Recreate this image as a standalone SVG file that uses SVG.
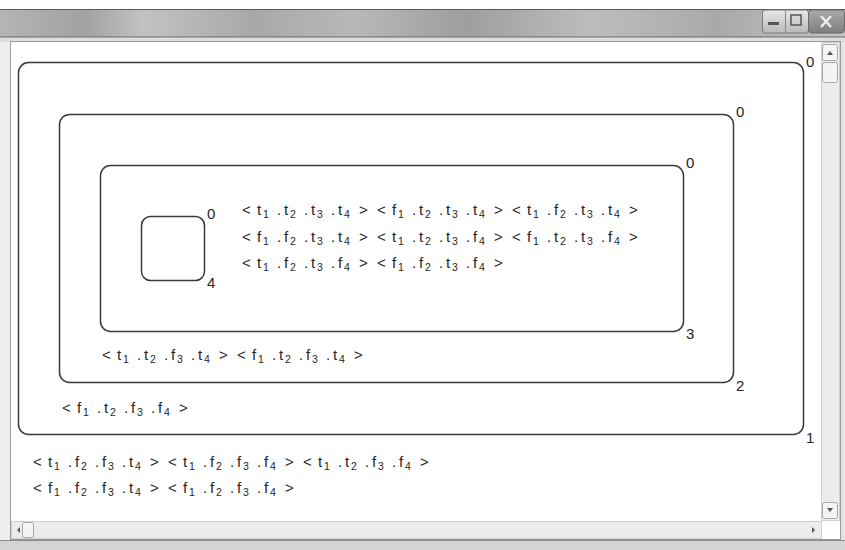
<svg xmlns="http://www.w3.org/2000/svg" width="845" height="550" viewBox="0 0 845 550">
<defs>
<linearGradient id="tb" x1="0" y1="0" x2="1" y2="0">
<stop offset="0" stop-color="#b4b4b4"/>
<stop offset="0.1" stop-color="#a2a2a2"/>
<stop offset="0.17" stop-color="#c2c2c2"/>
<stop offset="0.3" stop-color="#a8a8a8"/>
<stop offset="0.42" stop-color="#b8b8b8"/>
<stop offset="0.55" stop-color="#9e9e9e"/>
<stop offset="0.7" stop-color="#bdbdbd"/>
<stop offset="0.85" stop-color="#a9a9a9"/>
<stop offset="1" stop-color="#c4c4c4"/>
</linearGradient>
<linearGradient id="btn" x1="0" y1="0" x2="0" y2="1">
<stop offset="0" stop-color="#e8e8e8"/>
<stop offset="1" stop-color="#b8b8b8"/>
</linearGradient>
<linearGradient id="cls" x1="0" y1="0" x2="0" y2="1">
<stop offset="0" stop-color="#aaaaaa"/>
<stop offset="1" stop-color="#7e7e7e"/>
</linearGradient>
</defs>
<style>
.box{fill:none;stroke:#3a3a3a;stroke-width:1.5}
.m{font-family:"Liberation Sans",Arial,sans-serif;font-size:15px;fill:#262626}
.s{font-size:10.5px}
.lbl{font-family:"Liberation Sans",Arial,sans-serif;font-size:15px;fill:#262626}
.sb{fill:#ececec;stroke:#cfcfcf;stroke-width:1}
.sbtn{fill:#f4f4f4;stroke:#a8a8a8;stroke-width:1}
</style>
<rect width="845" height="550" fill="#ffffff"/>
<g id="window">
<rect x="0" y="9" width="845" height="28" fill="url(#tb)"/>
<line x1="0" y1="9.5" x2="845" y2="9.5" stroke="#5a5a5a" stroke-width="1"/>
<rect x="0" y="37" width="845" height="5" fill="#dedede"/>
<line x1="0" y1="37" x2="845" y2="37" stroke="#6a6a6a" stroke-width="1"/>
<rect x="0" y="42" width="10" height="498" fill="#eeeeee"/>
<rect x="840" y="42" width="5" height="498" fill="#e4e4e4"/>
<rect x="0" y="540" width="845" height="10" fill="#d4d4d4"/>
<line x1="0" y1="540.5" x2="845" y2="540.5" stroke="#8a8a8a" stroke-width="1"/>
<rect x="10.5" y="41.5" width="830" height="498" fill="#ffffff" stroke="#9a9a9a" stroke-width="1"/>
<rect x="762.5" y="10" width="46" height="23" rx="3" fill="url(#btn)" stroke="#7a7a7a"/>
<line x1="785.5" y1="10" x2="785.5" y2="33" stroke="#8a8a8a"/>
<rect x="768" y="22" width="11" height="3" fill="#555"/>
<rect x="791" y="15" width="10" height="10" fill="none" stroke="#555" stroke-width="1.5"/>
<rect x="808.5" y="10" width="36" height="23" rx="3" fill="url(#cls)" stroke="#6a6a6a"/>
<line x1="821" y1="16" x2="831" y2="27" stroke="#f0f0f0" stroke-width="2.2"/>
<line x1="831" y1="16" x2="821" y2="27" stroke="#f0f0f0" stroke-width="2.2"/>
<rect x="821.5" y="42.5" width="18" height="478" class="sb"/>
<rect x="822.5" y="44.5" width="15" height="16" rx="2" class="sbtn"/>
<polygon points="827,55 830,51 833,55" fill="#555"/>
<rect x="822.5" y="62.5" width="15" height="20" rx="2" class="sbtn"/>
<rect x="822.5" y="502.5" width="15" height="16" rx="2" class="sbtn"/>
<polygon points="827,508 830,512 833,508" fill="#555"/>
<rect x="11.5" y="521.5" width="810" height="17" class="sb"/>
<polygon points="17,530 20,527 20,533" fill="#555"/>
<rect x="22.5" y="522.5" width="11" height="15" rx="2" class="sbtn"/>
<polygon points="812,527 815,530 812,533" fill="#555"/>
</g>
<g id="connectors"></g>
<g id="box1">
<rect class="box" x="18.5" y="62.5" width="785" height="372" rx="10"/>
<text class="lbl" x="806" y="67">0</text>
<text class="lbl" x="806" y="443">1</text>
</g>
<g id="box2">
<rect class="box" x="59.5" y="114.5" width="674" height="268" rx="10"/>
<text class="lbl" x="736" y="117">0</text>
<text class="lbl" x="736" y="391">2</text>
</g>
<g id="box3">
<rect class="box" x="100.5" y="165.5" width="583" height="166" rx="10"/>
<text class="lbl" x="686" y="168">0</text>
<text class="lbl" x="686" y="339">3</text>
</g>
<g id="box4">
<rect class="box" x="141.5" y="216.5" width="63" height="64" rx="9"/>
<text class="lbl" x="207" y="219">0</text>
<text class="lbl" x="207" y="288">4</text>
</g>
<g id="tuples-inner">
<text class="m" y="215"><tspan x="242">&lt;</tspan><tspan x="257">t</tspan><tspan class="s" x="263" dy="3">1</tspan><tspan x="277" dy="-3">.</tspan><tspan x="284">t</tspan><tspan class="s" x="290" dy="3">2</tspan><tspan x="304" dy="-3">.</tspan><tspan x="311">t</tspan><tspan class="s" x="317" dy="3">3</tspan><tspan x="331" dy="-3">.</tspan><tspan x="338">t</tspan><tspan class="s" x="344" dy="3">4</tspan><tspan x="359" dy="-3">&gt;</tspan></text>
<text class="m" y="215"><tspan x="377">&lt;</tspan><tspan x="392">f</tspan><tspan class="s" x="398" dy="3">1</tspan><tspan x="412" dy="-3">.</tspan><tspan x="419">t</tspan><tspan class="s" x="425" dy="3">2</tspan><tspan x="439" dy="-3">.</tspan><tspan x="446">t</tspan><tspan class="s" x="452" dy="3">3</tspan><tspan x="466" dy="-3">.</tspan><tspan x="473">t</tspan><tspan class="s" x="479" dy="3">4</tspan><tspan x="494" dy="-3">&gt;</tspan></text>
<text class="m" y="215"><tspan x="512">&lt;</tspan><tspan x="527">t</tspan><tspan class="s" x="533" dy="3">1</tspan><tspan x="547" dy="-3">.</tspan><tspan x="554">f</tspan><tspan class="s" x="560" dy="3">2</tspan><tspan x="574" dy="-3">.</tspan><tspan x="581">t</tspan><tspan class="s" x="587" dy="3">3</tspan><tspan x="601" dy="-3">.</tspan><tspan x="608">t</tspan><tspan class="s" x="614" dy="3">4</tspan><tspan x="629" dy="-3">&gt;</tspan></text>
<text class="m" y="242"><tspan x="242">&lt;</tspan><tspan x="257">f</tspan><tspan class="s" x="263" dy="3">1</tspan><tspan x="277" dy="-3">.</tspan><tspan x="284">f</tspan><tspan class="s" x="290" dy="3">2</tspan><tspan x="304" dy="-3">.</tspan><tspan x="311">t</tspan><tspan class="s" x="317" dy="3">3</tspan><tspan x="331" dy="-3">.</tspan><tspan x="338">t</tspan><tspan class="s" x="344" dy="3">4</tspan><tspan x="359" dy="-3">&gt;</tspan></text>
<text class="m" y="242"><tspan x="377">&lt;</tspan><tspan x="392">t</tspan><tspan class="s" x="398" dy="3">1</tspan><tspan x="412" dy="-3">.</tspan><tspan x="419">t</tspan><tspan class="s" x="425" dy="3">2</tspan><tspan x="439" dy="-3">.</tspan><tspan x="446">t</tspan><tspan class="s" x="452" dy="3">3</tspan><tspan x="466" dy="-3">.</tspan><tspan x="473">f</tspan><tspan class="s" x="479" dy="3">4</tspan><tspan x="494" dy="-3">&gt;</tspan></text>
<text class="m" y="242"><tspan x="512">&lt;</tspan><tspan x="527">f</tspan><tspan class="s" x="533" dy="3">1</tspan><tspan x="547" dy="-3">.</tspan><tspan x="554">t</tspan><tspan class="s" x="560" dy="3">2</tspan><tspan x="574" dy="-3">.</tspan><tspan x="581">t</tspan><tspan class="s" x="587" dy="3">3</tspan><tspan x="601" dy="-3">.</tspan><tspan x="608">f</tspan><tspan class="s" x="614" dy="3">4</tspan><tspan x="629" dy="-3">&gt;</tspan></text>
<text class="m" y="268"><tspan x="242">&lt;</tspan><tspan x="257">t</tspan><tspan class="s" x="263" dy="3">1</tspan><tspan x="277" dy="-3">.</tspan><tspan x="284">f</tspan><tspan class="s" x="290" dy="3">2</tspan><tspan x="304" dy="-3">.</tspan><tspan x="311">t</tspan><tspan class="s" x="317" dy="3">3</tspan><tspan x="331" dy="-3">.</tspan><tspan x="338">f</tspan><tspan class="s" x="344" dy="3">4</tspan><tspan x="359" dy="-3">&gt;</tspan></text>
<text class="m" y="268"><tspan x="377">&lt;</tspan><tspan x="392">f</tspan><tspan class="s" x="398" dy="3">1</tspan><tspan x="412" dy="-3">.</tspan><tspan x="419">f</tspan><tspan class="s" x="425" dy="3">2</tspan><tspan x="439" dy="-3">.</tspan><tspan x="446">t</tspan><tspan class="s" x="452" dy="3">3</tspan><tspan x="466" dy="-3">.</tspan><tspan x="473">f</tspan><tspan class="s" x="479" dy="3">4</tspan><tspan x="494" dy="-3">&gt;</tspan></text>
</g>
<g id="tuples-box2">
<text class="m" y="360"><tspan x="102">&lt;</tspan><tspan x="117">t</tspan><tspan class="s" x="123" dy="3">1</tspan><tspan x="137" dy="-3">.</tspan><tspan x="144">t</tspan><tspan class="s" x="150" dy="3">2</tspan><tspan x="164" dy="-3">.</tspan><tspan x="171">f</tspan><tspan class="s" x="177" dy="3">3</tspan><tspan x="191" dy="-3">.</tspan><tspan x="198">t</tspan><tspan class="s" x="204" dy="3">4</tspan><tspan x="219" dy="-3">&gt;</tspan></text>
<text class="m" y="360"><tspan x="237">&lt;</tspan><tspan x="252">f</tspan><tspan class="s" x="258" dy="3">1</tspan><tspan x="272" dy="-3">.</tspan><tspan x="279">t</tspan><tspan class="s" x="285" dy="3">2</tspan><tspan x="299" dy="-3">.</tspan><tspan x="306">f</tspan><tspan class="s" x="312" dy="3">3</tspan><tspan x="326" dy="-3">.</tspan><tspan x="333">t</tspan><tspan class="s" x="339" dy="3">4</tspan><tspan x="354" dy="-3">&gt;</tspan></text>
</g>
<g id="tuples-box1">
<text class="m" y="413"><tspan x="62">&lt;</tspan><tspan x="77">f</tspan><tspan class="s" x="83" dy="3">1</tspan><tspan x="97" dy="-3">.</tspan><tspan x="104">t</tspan><tspan class="s" x="110" dy="3">2</tspan><tspan x="124" dy="-3">.</tspan><tspan x="131">f</tspan><tspan class="s" x="137" dy="3">3</tspan><tspan x="151" dy="-3">.</tspan><tspan x="158">f</tspan><tspan class="s" x="164" dy="3">4</tspan><tspan x="179" dy="-3">&gt;</tspan></text>
</g>
<g id="tuples-outside">
<text class="m" y="467"><tspan x="33">&lt;</tspan><tspan x="48">t</tspan><tspan class="s" x="54" dy="3">1</tspan><tspan x="68" dy="-3">.</tspan><tspan x="75">f</tspan><tspan class="s" x="81" dy="3">2</tspan><tspan x="95" dy="-3">.</tspan><tspan x="102">f</tspan><tspan class="s" x="108" dy="3">3</tspan><tspan x="122" dy="-3">.</tspan><tspan x="129">t</tspan><tspan class="s" x="135" dy="3">4</tspan><tspan x="150" dy="-3">&gt;</tspan></text>
<text class="m" y="467"><tspan x="168">&lt;</tspan><tspan x="183">t</tspan><tspan class="s" x="189" dy="3">1</tspan><tspan x="203" dy="-3">.</tspan><tspan x="210">f</tspan><tspan class="s" x="216" dy="3">2</tspan><tspan x="230" dy="-3">.</tspan><tspan x="237">f</tspan><tspan class="s" x="243" dy="3">3</tspan><tspan x="257" dy="-3">.</tspan><tspan x="264">f</tspan><tspan class="s" x="270" dy="3">4</tspan><tspan x="285" dy="-3">&gt;</tspan></text>
<text class="m" y="467"><tspan x="303">&lt;</tspan><tspan x="318">t</tspan><tspan class="s" x="324" dy="3">1</tspan><tspan x="338" dy="-3">.</tspan><tspan x="345">t</tspan><tspan class="s" x="351" dy="3">2</tspan><tspan x="365" dy="-3">.</tspan><tspan x="372">f</tspan><tspan class="s" x="378" dy="3">3</tspan><tspan x="392" dy="-3">.</tspan><tspan x="399">f</tspan><tspan class="s" x="405" dy="3">4</tspan><tspan x="420" dy="-3">&gt;</tspan></text>
<text class="m" y="493"><tspan x="33">&lt;</tspan><tspan x="48">f</tspan><tspan class="s" x="54" dy="3">1</tspan><tspan x="68" dy="-3">.</tspan><tspan x="75">f</tspan><tspan class="s" x="81" dy="3">2</tspan><tspan x="95" dy="-3">.</tspan><tspan x="102">f</tspan><tspan class="s" x="108" dy="3">3</tspan><tspan x="122" dy="-3">.</tspan><tspan x="129">t</tspan><tspan class="s" x="135" dy="3">4</tspan><tspan x="150" dy="-3">&gt;</tspan></text>
<text class="m" y="493"><tspan x="168">&lt;</tspan><tspan x="183">f</tspan><tspan class="s" x="189" dy="3">1</tspan><tspan x="203" dy="-3">.</tspan><tspan x="210">f</tspan><tspan class="s" x="216" dy="3">2</tspan><tspan x="230" dy="-3">.</tspan><tspan x="237">f</tspan><tspan class="s" x="243" dy="3">3</tspan><tspan x="257" dy="-3">.</tspan><tspan x="264">f</tspan><tspan class="s" x="270" dy="3">4</tspan><tspan x="285" dy="-3">&gt;</tspan></text>
</g>
</svg>
